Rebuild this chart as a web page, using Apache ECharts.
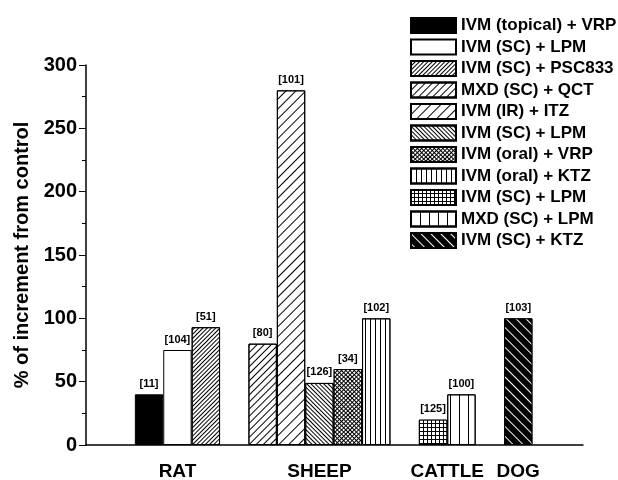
<!DOCTYPE html>
<html>
<head>
    <meta charset="utf-8">
    <title>Increment from control</title>
    <script src="https://cdn.jsdelivr.net/npm/echarts@6/dist/echarts.min.js"></script>
</head>
<body style="margin:0">
<div id="main" style="width: 618px;height:480px;"></div>
<script type="text/javascript">
    // species groups on the x axis
    var groups = ['RAT', 'SHEEP', 'CATTLE', 'DOG'];
    // one series per treatment, in legend order
    var treatments = ['IVM (topical) + VRP', 'IVM (SC) + LPM', 'IVM (SC) + PSC833', 'MXD (SC) + QCT',
        'IVM (IR) + ITZ', 'IVM (SC) + LPM ', 'IVM (oral) + VRP', 'IVM (oral) + KTZ',
        'IVM (SC) + LPM  ', 'MXD (SC) + LPM', 'IVM (SC) + KTZ'];
    var groupOf = [0, 0, 0, 1, 1, 1, 1, 1, 2, 2, 3];
    var values = [40, 75, 93, 80, 280, 49, 60, 100, 20, 40, 100];
    var refs = ['[11]', '[104]', '[51]', '[80]', '[101]', '[126]', '[34]', '[102]', '[125]', '[100]', '[103]'];
    var yTicks = [0, 50, 100, 150, 200, 250, 300];

    var font = '"Liberation Sans", Arial, sans-serif';

    // fill patterns (decals)
    function lines(rot, gap, col) {
        return {symbol: 'rect', symbolSize: 1, dashArrayX: [1, 0], dashArrayY: [1, gap],
            rotation: rot, color: col || '#000'};
    }
    function vlines(gap) {
        return {symbol: 'rect', symbolSize: 1, dashArrayX: [1, gap], dashArrayY: [1, 0], color: '#000'};
    }
    var UP = -Math.PI / 4;   // "/"
    var DOWN = Math.PI / 4;  // "\"
    var styles = [
        {color: '#000', decal: null},
        {color: '#fff', decal: null},
        {color: '#fff', decal: lines(UP, 2)},
        {color: '#fff', decal: lines(UP, 4)},
        {color: '#fff', decal: lines(UP, 6)},
        {color: '#fff', decal: lines(DOWN, 2)},
        {color: '#fff', decal: {symbol: 'rect', symbolSize: 1, dashArrayX: [2, 1], dashArrayY: [2, 1],
            rotation: DOWN, color: '#fff', backgroundColor: '#000'}},
        {color: '#fff', decal: vlines(4)},
        {color: '#fff', decal: {symbol: 'rect', symbolSize: 1, dashArrayX: [3, 1], dashArrayY: [3, 1],
            color: '#fff', backgroundColor: '#000'}},
        {color: '#fff', decal: vlines(8)},
        {color: '#000', decal: lines(DOWN, 6, '#fff')}
    ];

    // bar slots: one slot per bar, one empty slot between groups
    var firstSlot = 2.22;
    var xs = [];
    var pos = firstSlot;
    for (var i = 0; i < values.length; i++) {
        if (i > 0 && groupOf[i] !== groupOf[i - 1]) pos += 1;
        xs.push(pos);
        pos += 1;
    }
    var groupCentres = groups.map(function (g, gi) {
        var s = xs.filter(function (x, i) { return groupOf[i] === gi; });
        return (s[0] + s[s.length - 1]) / 2;
    });

    var series = treatments.map(function (name, i) {
        return {
            name: name,
            type: 'bar',
            barWidth: 28.4,
            barGap: '-100%',
            data: [[xs[i], values[i]]],
            itemStyle: {
                color: styles[i].color,
                borderColor: '#000',
                borderWidth: 1,
                decal: styles[i].decal
            },
            label: {
                show: true,
                position: 'top',
                distance: 5,
                formatter: refs[i],
                fontFamily: font,
                fontWeight: 'bold',
                fontSize: 11,
                color: '#000'
            }
        };
    });

    var myChart = echarts.init(document.getElementById('main'));
    var option = {
        animation: false,
        backgroundColor: '#fff',
        grid: {left: 86, right: 35, top: 65, bottom: 35, containLabel: false, outerBoundsMode: 'none'},
        legend: {
            orient: 'vertical',
            left: 410,
            top: 17,
            padding: 0,
            itemWidth: 45,
            itemHeight: 15,
            itemGap: 4.5,
            icon: 'rect',
            selectedMode: false,
            textStyle: {fontFamily: font, fontWeight: 'bold', fontSize: 17, color: '#000'},
            data: treatments
        },
        xAxis: {
            type: 'value',
            min: 0,
            max: 17.5,
            splitLine: {show: false},
            axisTick: {show: false},
            axisLine: {show: true, lineStyle: {color: '#000', width: 1.5}},
            axisLabel: {
                customValues: groupCentres,
                margin: 17,
                fontFamily: font,
                fontWeight: 'bold',
                fontSize: 19,
                color: '#000',
                formatter: function (v) {
                    var k = groupCentres.indexOf(v);
                    return k >= 0 ? groups[k] : '';
                }
            }
        },
        yAxis: {
            type: 'value',
            min: yTicks[0],
            max: yTicks[yTicks.length - 1],
            interval: yTicks[1] - yTicks[0],
            name: '% of increment from control',
            nameLocation: 'middle',
            nameRotate: 90,
            nameGap: 54,
            nameTextStyle: {fontFamily: font, fontWeight: 'bold', fontSize: 20, color: '#000'},
            splitLine: {show: false},
            axisLine: {show: true, lineStyle: {color: '#000', width: 1.5}},
            axisTick: {show: true, length: 7, lineStyle: {color: '#000', width: 1}},
            minorTick: {show: true, splitNumber: 2, length: 4, lineStyle: {color: '#000', width: 1}},
            axisLabel: {fontFamily: font, fontWeight: 'bold', fontSize: 20, color: '#000', margin: 9}
        },
        series: series
    };
    myChart.setOption(option);
</script>
</body>
</html>
